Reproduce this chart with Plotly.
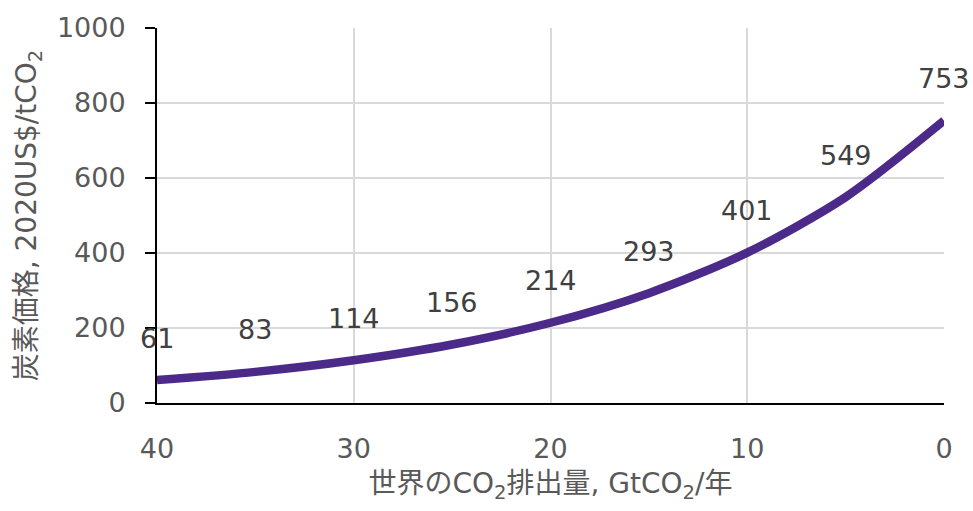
import plotly.graph_objects as go

# Global CO2 emissions (GtCO2/yr) and the matching carbon price (2020US$/tCO2)
emissions = [40, 35, 30, 25, 20, 15, 10, 5, 0]
carbon_price = [61, 83, 114, 156, 214, 293, 401, 549, 753]

x_ticks = [40, 30, 20, 10, 0]
y_ticks = [0, 200, 400, 600, 800, 1000]

FONT = "DejaVu Sans, Noto Sans CJK JP, sans-serif"
LINE_COLOR = "#4b2a89"

fig = go.Figure()
fig.add_trace(go.Scatter(
    x=emissions,
    y=carbon_price,
    mode="lines",
    line=dict(color=LINE_COLOR, width=8.5, shape="spline", smoothing=0.8),
    hoverinfo="x+y",
    showlegend=False,
))

# value labels above each point
for xv, yv in zip(emissions, carbon_price):
    fig.add_annotation(
        x=xv, y=yv, text=str(yv), showarrow=False,
        yshift=42, font=dict(family=FONT, size=27, color="#404040"),
    )

fig.update_layout(
    width=973, height=511,
    margin=dict(l=157, r=29, t=24, b=108),
    paper_bgcolor="white", plot_bgcolor="white",
    font=dict(family=FONT, color="#595959"),
)

fig.update_xaxes(
    range=[40, 0], tickvals=x_ticks, ticktext=[str(v) for v in x_ticks],
    showgrid=True, gridcolor="#d9d9d9", gridwidth=2,
    showline=True, linecolor="black", linewidth=2,
    ticks="", zeroline=False,
    tickfont=dict(family=FONT, size=27, color="#595959"),
    ticklabelstandoff=21,
    title=dict(text="世界のCO<sub>2</sub>排出量, GtCO<sub>2</sub>/年",
               font=dict(family=FONT, size=28, color="#595959"), standoff=10),
)

fig.update_yaxes(
    range=[0, 1000], tickvals=y_ticks,
    showgrid=True, gridcolor="#d9d9d9", gridwidth=2,
    showline=True, linecolor="black", linewidth=2,
    ticks="outside", ticklen=10, tickcolor="black", tickwidth=2,
    zeroline=False,
    tickfont=dict(family=FONT, size=27, color="#595959"),
    ticklabelstandoff=14,
    title=dict(text="炭素価格, 2020US$/tCO<sub>2</sub>",
               font=dict(family=FONT, size=28, color="#595959"), standoff=12),
)

fig.write_html("out.html")
